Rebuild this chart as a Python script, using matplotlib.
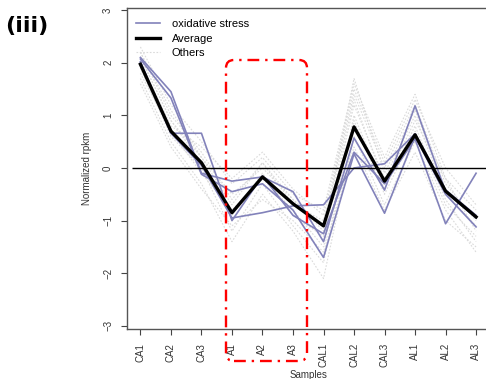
import numpy as np
import matplotlib
matplotlib.use("Agg")
import matplotlib.pyplot as plt
from matplotlib.patches import FancyBboxPatch

plt.rcParams['font.family'] = ['Liberation Sans', 'DejaVu Sans']

# sample names along the x axis
samples = ["CA1", "CA2", "CA3", "A1", "A2", "A3",
           "CAL1", "CAL2", "CAL3", "AL1", "AL2", "AL3"]

# oxidative stress genes (normalized rpkm)
ox_a = [2.10, 1.45, -0.10, -0.25, -0.17, -0.45, -1.40, 0.57, -0.42, 1.18, -0.45, -0.95]
ox_b = [2.07, 1.33, -0.12, -0.45, -0.30, -0.80, -1.70, 0.27, -0.86, 0.60, -0.50, -1.12]
ox_c = [2.02, 0.66, 0.66, -1.00, -0.15, -0.90, -1.25, 0.30, -0.30, 0.55, -1.06, -0.10]
ox_d = [2.00, 0.66, 0.05, -0.95, -0.85, -0.72, -0.70, 0.00, 0.08, 0.65, -0.42, -0.90]
oxidative = [ox_a, ox_b, ox_c, ox_d]

# cluster average
average = [1.97, 0.70, 0.10, -0.85, -0.17, -0.68, -1.10, 0.78, -0.25, 0.63, -0.44, -0.93]

# other genes of the cluster
others = [
    [2.3, 1.2, 0.5, -0.3, 0.2, -0.5, -0.8, 1.6, 0.2, 1.4, -0.2, -0.8],
    [2.2, 1.0, 0.3, -0.6, 0.1, -0.7, -1.0, 1.4, 0.0, 1.2, -0.3, -1.0],
    [2.1, 0.9, 0.1, -0.9, -0.1, -0.9, -1.3, 1.2, -0.2, 1.0, -0.5, -1.1],
    [1.9, 0.6, 0.0, -1.2, -0.3, -1.1, -1.8, 1.0, -0.4, 0.8, -0.6, -1.4],
    [1.7, 0.5, -0.3, -1.4, -0.5, -1.2, -2.1, 0.6, -0.7, 0.5, -0.8, -1.6],
    [2.0, 0.8, 0.4, -0.2, 0.3, -0.4, -0.9, 1.5, 0.1, 1.3, 0.0, -0.7],
    [1.8, 0.7, -0.1, -0.8, -0.2, -0.8, -1.5, 0.9, -0.5, 0.7, -0.7, -1.3],
    [2.2, 1.1, 0.2, -0.5, 0.0, -0.6, -1.2, 1.7, -0.1, 1.1, -0.4, -0.9],
    [1.6, 0.4, -0.4, -1.1, -0.6, -1.0, -1.6, 0.4, -0.8, 0.3, -1.0, -1.5],
    [2.1, 0.9, 0.2, -0.7, 0.1, -0.6, -1.1, 1.3, -0.3, 0.9, -0.2, -1.2],
]

yticks = [-3, -2, -1, 0, 1, 2, 3]

fig = plt.figure(figsize=(4.86, 3.79), dpi=100)
ax = fig.add_axes([127 / 486, 1 - 329 / 379, (489.5 - 127) / 486, (329 - 8) / 379])

x = np.arange(len(samples))
for i, row in enumerate(others):
    ax.plot(x, row, color="#dadada", lw=0.8, ls=(0, (1.5, 1.5)),
            label="Others" if i == 0 else None, zorder=1)
for i, row in enumerate(oxidative):
    ax.plot(x, row, color="#8282ba", lw=1.2,
            label="oxidative stress" if i == 0 else None, zorder=2)
ax.plot(x, average, color="black", lw=2.4, label="Average", zorder=3)
ax.hlines(0, -0.26, 11.6, color="black", lw=1.0, zorder=2)

ax.set_xlim(-0.44, 11.44)
ax.set_ylim(-3.06, 3.04)
ax.set_xticks(x)
ax.set_xticklabels(samples, rotation=90, fontsize=7, color="#333333")
ax.set_yticks(yticks)
ax.set_yticklabels([str(v).replace("-", "\u2212") for v in yticks],
                   rotation=90, fontsize=7, color="#333333", va="center")
ax.tick_params(length=4, width=0.8, color="#444444", pad=6)
for s in ax.spines.values():
    s.set_color("#555555")
    s.set_linewidth(1.0)
ax.set_xlabel("Samples", fontsize=7, color="#333333", labelpad=2)
ax.set_ylabel("Normalized rpkm", fontsize=7, color="#333333", labelpad=8)

h, l = ax.get_legend_handles_labels()
order = [l.index("oxidative stress"), l.index("Average"), l.index("Others")]
ax.legend([h[i] for i in order], [l[i] for i in order], loc="upper left",
          bbox_to_anchor=(136 / 486, 1 - 19 / 379), bbox_transform=fig.transFigure,
          frameon=False, fontsize=8, handlelength=2.2, handletextpad=1.0,
          labelspacing=0.42, borderpad=0, borderaxespad=0)

# red dash-dot highlight box around A1-A3
box = FancyBboxPatch((2.26, 0.18), 0.81, 3.01, boxstyle="round,pad=0,rounding_size=0.08",
                     transform=fig.dpi_scale_trans, fill=False, edgecolor="red",
                     lw=1.7, ls=(0, (5, 2.5, 1, 2.5)), clip_on=False, zorder=5)
fig.patches.append(box)

fig.text(27 / 486, 1 - 26 / 379, "(iii)", fontsize=16, fontweight="bold",
         family="DejaVu Sans", ha="center", va="center")

fig.savefig("out.png", dpi=100)
